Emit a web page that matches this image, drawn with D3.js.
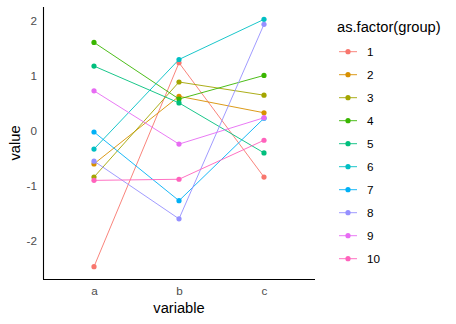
<!DOCTYPE html>
<html>
<head>
<meta charset="utf-8">
<script src="https://cdn.jsdelivr.net/npm/d3@7"></script>
<style>
  body { margin: 0; background: #fff; }
  text { font-family: "Liberation Sans", Arial, sans-serif; }
</style>
</head>
<body>
<div id="chart-area"></div>
<script>
// values per group at a, b, c
const variables = ["a", "b", "c"]
const groups = ["1", "2", "3", "4", "5", "6", "7", "8", "9", "10"]
const valuesA = [-2.48, -0.61, -0.85, 1.60, 1.17, -0.34, -0.03, -0.56, 0.72, -0.91]
const valuesB = [1.23, 0.62, 0.88, 0.57, 0.50, 1.29, -1.28, -1.61, -0.25, -0.89]
const valuesC = [-0.85, 0.32, 0.64, 1.00, -0.41, 2.02, 0.22, 1.93, 0.23, -0.18]
const yTicks = [-2, -1, 0, 1, 2]
const colors = ["#F8766D", "#D89000", "#A3A500", "#39B600", "#00BF7D",
  "#00BFC4", "#00B0F6", "#9590FF", "#E76BF3", "#FF62BC"]

const WIDTH = 456
const HEIGHT = 324
const PANEL = {LEFT: 43, RIGHT: 315, TOP: 7, BOTTOM: 279}

const data = groups.map((g, i) => ({
  group: g,
  color: colors[i],
  values: [valuesA[i], valuesB[i], valuesC[i]].map((v, j) => ({variable: variables[j], value: v}))
}))

const svg = d3.select("#chart-area").append("svg")
  .attr("width", WIDTH)
  .attr("height", HEIGHT)

// discrete x with ggplot-like 0.6 expansion
const x = d3.scalePoint()
  .domain(variables)
  .range([PANEL.LEFT, PANEL.RIGHT])
  .padding(0.6)

const allValues = valuesA.concat(valuesB, valuesC)
const yMin = d3.min(allValues)
const yMax = d3.max(allValues)
const pad = (yMax - yMin) * 0.05
const y = d3.scaleLinear()
  .domain([yMin - pad, yMax + pad])
  .range([PANEL.BOTTOM, PANEL.TOP])

// Y Axis (plain hyphen for negatives)
const yAxis = svg.append("g")
  .attr("transform", `translate(${PANEL.LEFT}, 0)`)
  .call(d3.axisLeft(y).tickValues(yTicks).tickSize(0).tickPadding(6).tickFormat(d => String(d)))
yAxis.select(".domain").attr("stroke", "#000").attr("stroke-width", 1.1)
  .attr("d", `M0.5,${PANEL.TOP}V${PANEL.BOTTOM}`)
yAxis.selectAll("text").attr("fill", "#4D4D4D").attr("font-size", "11.7px")
  .attr("font-family", "Liberation Sans, Arial, sans-serif")

// X Axis
const xAxis = svg.append("g")
  .attr("transform", `translate(0, ${PANEL.BOTTOM})`)
  .call(d3.axisBottom(x).tickSize(0).tickPadding(8))
xAxis.select(".domain").attr("stroke", "#000").attr("stroke-width", 1.1)
  .attr("d", `M${PANEL.LEFT},0.5H${PANEL.RIGHT}`)
xAxis.selectAll("text").attr("fill", "#4D4D4D").attr("font-size", "11.7px")
  .attr("font-family", "Liberation Sans, Arial, sans-serif")

// axis titles
svg.append("text")
  .attr("x", x("b"))
  .attr("y", 313)
  .attr("font-size", "14.7px")
  .attr("text-anchor", "middle")
  .text("variable")

svg.append("text")
  .attr("transform", `translate(20, ${(PANEL.TOP + PANEL.BOTTOM) / 2}) rotate(-90)`)
  .attr("font-size", "14.7px")
  .attr("text-anchor", "middle")
  .text("value")

// lines and points
const line = d3.line()
  .x(d => x(d.variable))
  .y(d => y(d.value))

const series = svg.append("g").selectAll("g")
  .data(data)
  .enter().append("g")

series.append("path")
  .attr("d", d => line(d.values))
  .attr("fill", "none")
  .attr("stroke", d => d.color)
  .attr("stroke-width", 0.9)

series.selectAll("circle")
  .data(d => d.values.map(v => ({...v, color: d.color})))
  .enter().append("circle")
  .attr("cx", d => x(d.variable))
  .attr("cy", d => y(d.value))
  .attr("r", 2.6)
  .attr("fill", d => d.color)

// Legend
const legend = svg.append("g")
  .attr("transform", "translate(337, 0)")

legend.append("text")
  .attr("x", 0)
  .attr("y", 32)
  .attr("font-size", "14.7px")
  .text("as.factor(group)")

const keys = legend.selectAll("g.key")
  .data(data)
  .enter().append("g")
  .attr("class", "key")
  .attr("transform", (d, i) => `translate(0, ${51.7 + i * 23})`)

keys.append("line")
  .attr("x1", 2).attr("x2", 20)
  .attr("stroke", d => d.color)
  .attr("stroke-width", 0.9)

keys.append("circle")
  .attr("cx", 11)
  .attr("r", 2.6)
  .attr("fill", d => d.color)

keys.append("text")
  .attr("x", 30)
  .attr("dy", "0.35em")
  .attr("font-size", "11.7px")
  .text(d => d.group)
</script>
</body>
</html>
